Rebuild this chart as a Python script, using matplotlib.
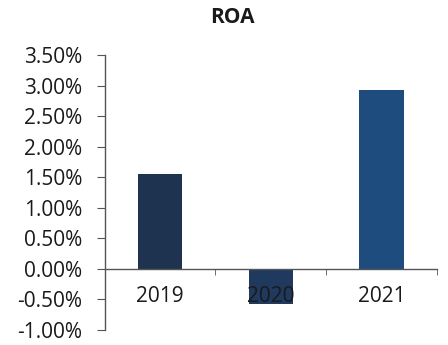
import matplotlib.pyplot as plt
from matplotlib.ticker import PercentFormatter, FixedLocator

years = ["2019", "2020", "2021"]
roa = [0.0156, -0.0057, 0.0293]
bar_colors = ["#1e3350", "#1f3a5e", "#1f4c7e"]

plt.rcParams['font.family'] = ['Open Sans', 'DejaVu Sans']
plt.rcParams['axes.unicode_minus'] = False

fig = plt.figure(figsize=(4.48, 3.45), dpi=100)
ax = fig.add_axes([0.234, 0.0435, 0.741, 0.797])

x = list(range(len(years)))
ax.bar(x, roa, width=0.4, color=bar_colors)

ax.set_xlim(-0.5, len(years) - 0.5)
ax.set_ylim(-0.01, 0.035)
ax.set_yticks([i * 0.005 for i in range(-2, 8)])
ax.yaxis.set_major_formatter(PercentFormatter(1.0, decimals=2))

# category axis sits on the zero line, with ticks between categories
ax.spines['bottom'].set_position(('data', 0))
ax.spines['top'].set_visible(False)
ax.spines['right'].set_visible(False)
for s in ('left', 'bottom'):
    ax.spines[s].set_color('#555555')
    ax.spines[s].set_linewidth(1.0)

ax.set_xticks(x)
ax.set_xticklabels(years)
ax.xaxis.set_minor_locator(FixedLocator([0.5, 1.5, 2.5]))
ax.tick_params(axis='x', which='major', length=0, pad=12, labelsize=15, colors='#1a1a1a')
ax.tick_params(axis='x', which='minor', direction='out', length=4, color='#555555')
ax.tick_params(axis='y', direction='out', length=6, color='#555555', labelsize=15,
               labelcolor='#1a1a1a', pad=10)

fig.text(0.518, 0.95, "ROA", ha='center', va='center', fontsize=15,
         fontweight='bold', color='#1a1a1a')

fig.savefig("out.png", dpi=100)
